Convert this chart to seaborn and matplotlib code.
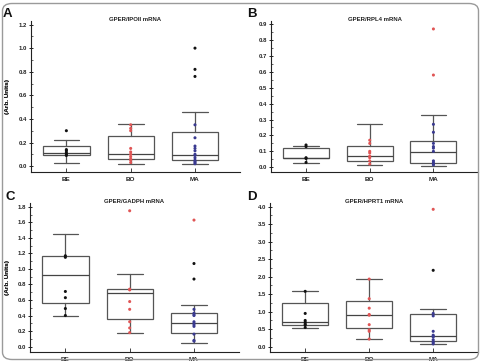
import numpy as np
import pandas as pd
import matplotlib.pyplot as plt
from matplotlib.patches import FancyBboxPatch
from matplotlib.ticker import MultipleLocator, FormatStrFormatter
import seaborn as sns

sns.set_theme(style="white")
plt.rcParams['font.family'] = ['Liberation Sans', 'DejaVu Sans']

groups = ["BE", "BO", "MA"]
titles = ["GPER/IPOII mRNA", "GPER/RPL4 mRNA", "GPER/GADPH mRNA", "GPER/HPRT1 mRNA"]
letters = ["A", "B", "C", "D"]

# box stats: (whislo, q1, med, q3, whishi) for BE, BO, MA
box_a = [(0.028, 0.096, 0.113, 0.167, 0.218), (0.020, 0.062, 0.099, 0.252, 0.354), (0.014, 0.054, 0.096, 0.289, 0.459)]
box_b = [(0.028, 0.055, 0.060, 0.121, 0.136), (0.013, 0.042, 0.072, 0.136, 0.269), (0.008, 0.028, 0.097, 0.165, 0.326)]
box_c = [(0.40, 0.558, 0.928, 1.17, 1.45), (0.17, 0.356, 0.695, 0.737, 0.94), (0.05, 0.174, 0.30, 0.432, 0.534)]
box_d = [(0.527, 0.62, 0.697, 1.254, 1.60), (0.216, 0.527, 0.894, 1.31, 1.92), (0.066, 0.15, 0.31, 0.922, 1.07)]

# individual points
a_be = [0.30, 0.14, 0.13, 0.115, 0.10, 0.09]
a_bo = [0.35, 0.32, 0.30, 0.15, 0.12, 0.10, 0.08, 0.06, 0.05, 0.03]
a_ma = [0.35, 0.24, 0.17, 0.15, 0.13, 0.10, 0.09, 0.07, 0.05, 0.04, 0.03, 0.02]
a_ma_dark = [1.00, 0.82, 0.76]
a_ma_red = []

b_be = [0.14, 0.13, 0.06, 0.055, 0.03]
b_bo = [0.17, 0.15, 0.10, 0.09, 0.07, 0.06, 0.04, 0.02]
b_ma = [0.27, 0.22, 0.15, 0.13, 0.12, 0.10, 0.04, 0.03, 0.02, 0.015]
b_ma_dark = []
b_ma_red = [0.87, 0.58]

c_be = [1.17, 1.15, 0.71, 0.63, 0.49, 0.40]
c_bo = [1.75, 0.74, 0.73, 0.58, 0.48, 0.32, 0.24, 0.18]
c_ma = [0.48, 0.43, 0.41, 0.40, 0.32, 0.30, 0.28, 0.26, 0.16, 0.08, 0.07]
c_ma_dark = [1.07, 0.87]
c_ma_red = [1.63]

d_be = [1.58, 0.95, 0.75, 0.70, 0.65, 0.62, 0.55]
d_bo = [1.93, 1.37, 1.10, 0.92, 0.90, 0.63, 0.48, 0.44, 0.22]
d_ma = [0.95, 0.88, 0.44, 0.33, 0.30, 0.28, 0.20, 0.15, 0.12, 0.08]
d_ma_dark = [2.18]
d_ma_red = [3.92]

ylims = [(-0.05, 1.23), (-0.03, 0.92), (-0.07, 1.85), (-0.15, 4.1)]
steps = [0.2, 0.1, 0.2, 0.5]

palette = {"k": "#111111", "r": "#e05555", "b": "#3a3a90"}

panels = [
    (box_a, a_be, a_bo, a_ma, a_ma_dark, a_ma_red),
    (box_b, b_be, b_bo, b_ma, b_ma_dark, b_ma_red),
    (box_c, c_be, c_bo, c_ma, c_ma_dark, c_ma_red),
    (box_d, d_be, d_bo, d_ma, d_ma_dark, d_ma_red),
]

# axes rectangles in pixels (left, top, right, bottom) and letter positions
rects = [(31, 21, 240, 172), (271, 21, 478, 172), (30, 203, 239, 352), (270, 203, 478, 352)]
letter_pos = [(3, 8), (247, 8), (6, 191), (247, 191)]
W, H = 482, 363

fig = plt.figure(figsize=(W / 100, H / 100), dpi=100)
fig.patches.append(FancyBboxPatch((2.5 / W, 3.5 / H), 476 / W, 356 / H,
                                  boxstyle="round,pad=0,rounding_size=0.02",
                                  transform=fig.transFigure, fill=False,
                                  edgecolor="#9a9a9a", linewidth=1.0))

for i, (box, be, bo, ma, ma_dark, ma_red) in enumerate(panels):
    l, t, r, b = rects[i]
    ax = fig.add_axes([l / W, 1 - b / H, (r - l) / W, (b - t) / H])

    rows = [("BE", v, "k") for v in be] + [("BO", v, "r") for v in bo] + \
           [("MA", v, "b") for v in ma] + [("MA", v, "k") for v in ma_dark] + \
           [("MA", v, "r") for v in ma_red]
    df = pd.DataFrame(rows, columns=["group", "value", "kind"])

    stats = [dict(label=g, whislo=s[0], q1=s[1], med=s[2], q3=s[3], whishi=s[4], fliers=[])
             for g, s in zip(groups, box)]
    ax.bxp(stats, positions=[0, 1, 2], widths=0.72, patch_artist=True,
           showfliers=False, capwidths=0.4,
           boxprops=dict(facecolor="white", edgecolor="#555555", linewidth=0.9),
           medianprops=dict(color="#444444", linewidth=0.9),
           whiskerprops=dict(color="#555555", linewidth=0.9),
           capprops=dict(color="#555555", linewidth=0.9))

    sns.stripplot(data=df, x="group", y="value", hue="kind", palette=palette,
                  order=groups, jitter=False, size=2.2, linewidth=0,
                  legend=False, ax=ax, zorder=3)

    ax.set_xlim(-0.55, 2.7)
    ax.set_ylim(*ylims[i])
    ax.yaxis.set_major_locator(MultipleLocator(steps[i]))
    ax.yaxis.set_minor_locator(MultipleLocator(steps[i] / 2))
    ax.yaxis.set_major_formatter(FormatStrFormatter("%.1f"))
    ax.set_xticks([0, 1, 2])
    ax.set_xticklabels(groups, fontsize=4.6, fontweight="bold", color="#222222")
    ax.tick_params(axis="y", which="major", direction="inout", length=3, width=0.7,
                   labelsize=4.3, pad=1.5, left=True, colors="#222222")
    ax.tick_params(axis="y", which="minor", direction="in", length=1.5, width=0.5, left=True)
    ax.tick_params(axis="x", which="major", direction="in", length=3, width=0.6,
                   pad=3.5, bottom=True, colors="#222222")
    for lab in ax.get_yticklabels():
        lab.set_fontweight("bold")
    for side in ["top", "right"]:
        ax.spines[side].set_visible(False)
    for side in ["left", "bottom"]:
        ax.spines[side].set_color("#222222")
        ax.spines[side].set_linewidth(0.8)
    ax.set_xlabel("")
    ax.set_ylabel("(Arb. Units)", fontsize=4.6, fontweight="bold", color="#222222")
    ax.yaxis.set_label_coords((10 - l) / (r - l), 0.5)
    ax.set_title(titles[i], fontsize=4.3, fontweight="bold", pad=0, color="#222222")
    lx, ly = letter_pos[i]
    fig.text(lx / W, 1 - ly / H, letters[i], fontsize=9.5, fontweight="bold",
             va="top", ha="left", color="#111111")

fig.savefig("out.png", dpi=100)
